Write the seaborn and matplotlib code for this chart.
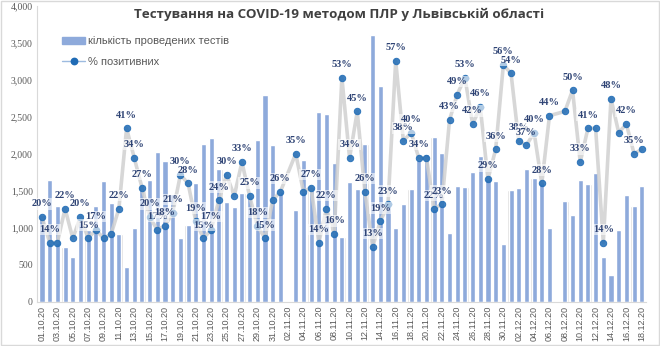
import matplotlib
matplotlib.use("Agg")
import matplotlib.pyplot as plt
from matplotlib.patches import Patch, Rectangle
from matplotlib.lines import Line2D
import numpy as np
import pandas as pd
import seaborn as sns

# ---------------- data ----------------
dates = ([f"{d:02d}.10.20" for d in range(1, 32)]
         + [f"{d:02d}.11.20" for d in range(1, 31)]
         + [f"{d:02d}.12.20" for d in range(1, 19)])

tests = [1170, 1640, 1300, 740, 600, 1130, 970, 1300, 1630, 1330,
         920, 470, 1000, 1590, 1650, 2020, 1900, 1450, 860, 1040,
         1600, 2130, 2210, 1800, 1350, 1280, 1470, 1420, 2180, 2790,
         2120, 1490, np.nan, 1240, 1910, 1550, 2560, 2540, 1870, 880,
         1620, 1520, 2130, 3600, 2920, 1350, 990, 1320, 1520, 1910,
         2000, 2230, 2005, 925, 1560, 1545, 1750, 1965, 1690, 1630,
         778, 1510, 1530, 1790, 1670, 1620, 1000, np.nan, 1360, 1170,
         1645, 1590, 1735, 605, 361, 970, 1440, 1293, 1563]

pct = [20, 14, 14, 22, 15, 20, 15, 17, 15, 16,
       22, 41, 34, 27, 20, 17, 18, 21, 30, 28,
       19, 15, 17, 24, 30, 25, 33, 25, 18, 15,
       24, 26, np.nan, 35, 26, 27, 14, 22, 16, 53,
       34, 45, 26, 13, 19, 23, 57, 38, 40, 34,
       34, 22, 23, 43, 49, 53, 42, 46, 29, 36,
       56, 54, 38, 37, 40, 28, 44, np.nan, 45, 50,
       33, 41, 41, 14, 48, 40, 42, 35, 36]

show_label = [1, 1, 0, 1, 0, 1, 1, 1, 0, 0,
              1, 1, 1, 1, 1, 1, 1, 1, 1, 1,
              1, 1, 1, 1, 1, 0, 1, 1, 1, 1,
              0, 1, 0, 1, 0, 1, 1, 1, 1, 1,
              1, 1, 1, 1, 1, 1, 1, 1, 1, 1,
              0, 1, 1, 1, 1, 1, 1, 1, 1, 1,
              1, 1, 1, 1, 1, 1, 1, 0, 0, 1,
              1, 1, 0, 1, 1, 0, 1, 1, 0]

title = "Тестування на COVID-19 методом ПЛР у Львівській області"
bar_label = "кількість проведених тестів"
line_label = "% позитивних"

df = pd.DataFrame({"date": dates, "tests": tests, "pct": pct, "lab": show_label})
df["pos"] = np.arange(len(df))
df["share"] = df["pct"] / 100.0

# ---------------- style ----------------
sns.set_theme(style="white")
plt.rcParams["font.family"] = ["Liberation Sans", "DejaVu Sans"]

bar_col = "#8eaadb"
dot_col = "#1f6bb5"
lab_col = "#2f4475"

fig = plt.figure(figsize=(6.6, 3.46), dpi=100)
ax = fig.add_axes([37 / 660, 1 - 301.7 / 346, (645.6 - 37) / 660, (301.7 - 5.7) / 346])

# shadow bars then main bars
sns.barplot(data=df, x="date", y="tests", order=dates, ax=ax, color="#dcdcdc",
            width=0.95, saturation=1)
sns.barplot(data=df, x="date", y="tests", order=dates, ax=ax, color=bar_col,
            width=0.66, saturation=1)

ax.set_xlim(-0.65, len(dates) - 0.5)
ax.set_ylim(0, 4000)
ax.set_yticks(np.arange(0, 4001, 500))
ax.set_yticklabels([f"{v:,}" for v in range(0, 4001, 500)],
                   family="Liberation Serif", fontsize=7, color="#595959")
ax.set_xticks(df["pos"][::2])
ax.set_xticklabels(df["date"][::2], rotation=90, fontsize=6.5, color="#595959")
ax.tick_params(axis="both", length=0, pad=3)
ax.set_xlabel("")
ax.set_ylabel("")
for s in ["top", "right"]:
    ax.spines[s].set_visible(False)
for s in ["left", "bottom"]:
    ax.spines[s].set_color("#d9d9d9")
    ax.spines[s].set_linewidth(0.8)

# secondary axis: % positive
ax2 = ax.twinx()
ln = df.dropna(subset=["share"])
sns.lineplot(data=ln, x="pos", y="share", ax=ax2, color="#d0d0d0", lw=2.6,
             alpha=0.85, sort=True, marker="o", markersize=4.6,
             markerfacecolor=dot_col, markeredgecolor=dot_col)
ax2.set_ylim(0, 0.70)
ax2.set_xlim(-0.65, len(dates) - 0.5)
ax2.axis("off")

for _, r in ln.iterrows():
    if r["lab"]:
        ax2.annotate(f"{int(r['pct'])}%", (r["pos"], r["share"]), xytext=(0, 9.5),
                     textcoords="offset points", ha="center", va="center",
                     fontsize=7.5, fontweight="bold", family="Liberation Serif",
                     color=lab_col,
                     bbox=dict(boxstyle="square,pad=0.12", fc="white", ec="none", alpha=0.6))

# legend
handles = [Patch(color=bar_col),
           Line2D([], [], color="#9dbbe0", lw=1, marker="o", markersize=4.6,
                  markerfacecolor=dot_col, markeredgecolor=dot_col)]
fig.legend(handles, [bar_label, line_label], loc="upper left",
           bbox_to_anchor=(58 / 660, 1 - 32 / 346), frameon=False, fontsize=8,
           labelcolor="#595959", handlelength=2.0, handleheight=0.6,
           labelspacing=0.95, handletextpad=0.3, borderaxespad=0)

fig.text(339 / 660, 1 - 14 / 346, title, ha="center", va="center", fontsize=9.6,
         fontweight="bold", color="#404040", family=["Open Sans", "DejaVu Sans"])

fig.patches.append(Rectangle((0.0015, 0.003), 0.997, 0.994, transform=fig.transFigure,
                             fill=False, ec="#d9d9d9", lw=1))

fig.savefig("out.png", dpi=100)
